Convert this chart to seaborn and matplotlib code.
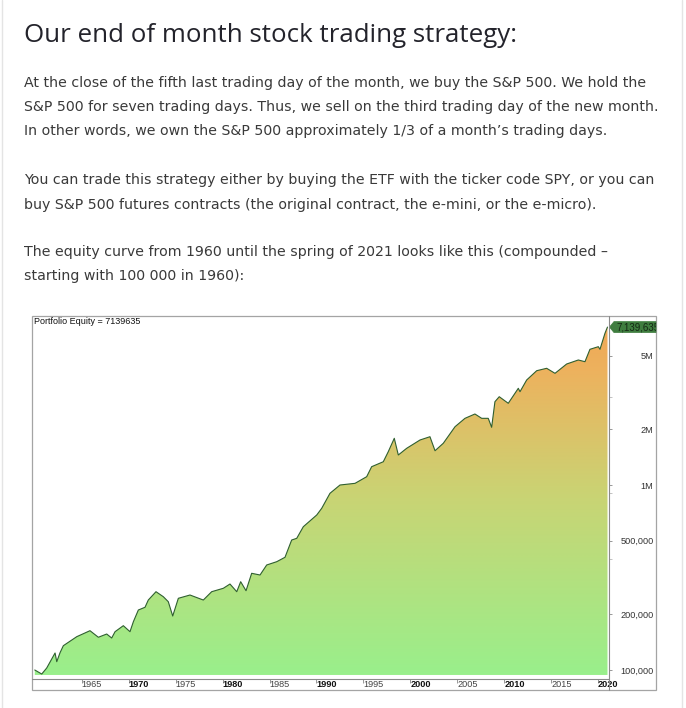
"""
Recreation of a blog section: intro text plus an end-of-month strategy equity curve.
"""

import numpy as np
import matplotlib
matplotlib.use("Agg")
import matplotlib.pyplot as plt
import seaborn as sns
from matplotlib.patches import Polygon, Rectangle
from matplotlib.lines import Line2D
from matplotlib.image import AxesImage
from matplotlib.colors import LinearSegmentedColormap
from matplotlib.transforms import Bbox, TransformedBbox

# Equity curve (year, portfolio value)
years = [1960.0, 1960.74, 1961.27, 1962.16, 1962.34, 1962.69, 1963.04, 1964.47,
         1965.88, 1966.77, 1967.66, 1968.19, 1968.55, 1969.43, 1970.14, 1970.50,
         1971.03, 1971.74, 1972.09, 1972.91, 1973.69, 1974.22, 1974.69, 1975.29,
         1976.53, 1977.95, 1978.84, 1980.08, 1980.79, 1981.51, 1981.93, 1982.50,
         1983.10, 1983.99, 1984.70, 1985.77, 1986.65, 1987.36, 1987.90, 1988.60,
         1990.03, 1990.56, 1991.44, 1992.51, 1994.11, 1995.35, 1995.88, 1997.12,
         1997.65, 1998.29, 1998.72, 1999.61, 2001.03, 2002.09, 2002.63, 2003.51,
         2004.76, 2005.82, 2006.88, 2007.60, 2008.30, 2008.66, 2009.01, 2009.47,
         2010.43, 2011.50, 2011.68, 2012.39, 2013.46, 2014.52, 2015.41, 2016.65,
         2017.89, 2018.60, 2019.13, 2020.02, 2020.20, 2020.73, 2020.90, 2021.00]
equity = [100000, 95100, 102500, 123600, 110900, 124000, 135300, 151400,
          163100, 150300, 156500, 148900, 161100, 173600, 161100, 182400,
          211000, 218300, 238900, 265000, 249000, 234000, 195800, 244100,
          254300, 238900, 265000, 276500, 291600, 265000, 300100, 268300,
          333200, 326200, 369500, 385000, 406700, 504200, 515000, 595000,
          688400, 748200, 901800, 1000000, 1021000, 1109000, 1256000, 1336000,
          1514000, 1788000, 1453000, 1579000, 1751000, 1824000, 1532000, 1681000,
          2066000, 2293000, 2420000, 2293000, 2293000, 2051000, 2820000, 3001000,
          2765000, 3332000, 3194000, 3695000, 4148000, 4274000, 4015000, 4509000,
          4740000, 4641000, 5414000, 5593000, 5414000, 6607000, 6944000, 7139635]

year_ticks = [1965, 1970, 1975, 1980, 1985, 1990, 1995, 2000, 2005, 2010, 2015, 2020]
value_ticks = [100000, 200000, 500000, 1000000, 2000000, 5000000]
value_labels = ["100,000", "200,000", "500,000", "1M", "2M", "5M"]
minor_value_ticks = [400000, 900000, 3000000]

TITLE = "Our end of month stock trading strategy:"
LINES = [
    ("At the close of the fifth last trading day of the month, we buy the S&P 500. We hold the", 87),
    ("S&P 500 for seven trading days. Thus, we sell on the third trading day of the new month.", 111),
    ("In other words, we own the S&P 500 approximately 1/3 of a month\u2019s trading days.", 135),
    ("You can trade this strategy either by buying the ETF with the ticker code SPY, or you can", 184),
    ("buy S&P 500 futures contracts (the original contract, the e-mini, or the e-micro).", 209),
    ("The equity curve from 1960 until the spring of 2021 looks like this (compounded \u2013", 256),
    ("starting with 100 000 in 1960):", 280),
]

W, H = 686, 708


def fx(px):
    return px / W


def fy(py):
    return 1 - py / H


sns.set_style("white")
plt.rcParams['font.family'] = ['DejaVu Sans']

fig = plt.figure(figsize=(W / 100, H / 100), dpi=100)
fig.patch.set_facecolor('white')

# Page text
fig.text(fx(24), fy(42), TITLE, family='Open Sans', fontsize=18.6, color='#23232b', va='baseline')
for txt, base in LINES:
    fig.text(fx(24), fy(base), txt, family='DejaVu Sans', fontsize=10.15, color='#3a3a3a', va='baseline')

# page borders
for px in (2, 682):
    fig.add_artist(Line2D([fx(px), fx(px)], [0, 1], color='#e4e4e4', lw=1))

# Chart
ax = fig.add_axes([fx(33), fy(679), (609 - 33) / W, (679 - 316) / H])
sns.lineplot(x=years, y=equity, ax=ax, color='#2f5f30', linewidth=0.8, zorder=3)
ax.set_yscale('log')
ax.set_xlim(1959.81, 2021.16)
ax.set_ylim(89400, 8195000)
ax.patch.set_alpha(0)
for s in ax.spines.values():
    s.set_visible(False)

cmap = LinearSegmentedColormap.from_list(
    'eq', [(0, '#98f08c'), (0.5, '#c9d474'), (0.85, '#edb25e'), (1, '#f0a553')])
im = AxesImage(ax, cmap=cmap, extent=[0, 1, 0, 1], origin='lower',
               transform=ax.transAxes, interpolation='bilinear')
im.set_data(np.linspace(0, 1, 256).reshape(-1, 1))
ax.add_image(im)
floor = 94000
clip = Polygon(list(zip(years, equity)) + [(years[-1], floor), (years[0], floor)],
               closed=True, transform=ax.transData, facecolor='none', edgecolor='none')
ax.add_patch(clip)
im.set_clip_path(clip)
im.set_zorder(1)

# ticks
ax.set_xticks(year_ticks)
ax.set_xticklabels([str(y) for y in year_ticks])
for lab, y in zip(ax.get_xticklabels(), year_ticks):
    lab.set_horizontalalignment('left')
    lab.set_family('Liberation Sans')
    if y % 10 == 0:
        lab.set_fontweight('bold')
        lab.set_color('#111111')
    else:
        lab.set_color('#444444')
ax.tick_params(axis='x', direction='out', length=2.9, width=0.6, color='#888888',
               labelsize=6.6, pad=-2.0, bottom=True)

ax.yaxis.tick_right()
ax.set_yticks(value_ticks)
ax.set_yticks(minor_value_ticks, minor=True)
ax.set_yticklabels(value_labels)
ax.yaxis.set_minor_formatter(matplotlib.ticker.NullFormatter())
for lab in ax.get_yticklabels():
    lab.set_horizontalalignment('right')
    lab.set_family('Liberation Sans')
    lab.set_color('#333333')
ax.tick_params(axis='y', which='major', direction='out', length=2.5, width=0.6,
               color='#888888', labelsize=6.6, pad=29.5, right=True, left=False)
ax.tick_params(axis='y', which='minor', direction='out', length=1.8, width=0.5,
               color='#aaaaaa', right=True, left=False)

# frame and axis lines
fig.add_artist(Rectangle((fx(32), fy(690)), (656 - 32) / W, (690 - 316) / H,
                         transform=fig.transFigure, fill=False, edgecolor='#a4a4a4', lw=0.9))
fig.add_artist(Line2D([fx(32), fx(609)], [fy(679), fy(679)], color='#8a8a8a', lw=0.8))
fig.add_artist(Line2D([fx(609), fx(609)], [fy(316), fy(690)], color='#8a8a8a', lw=0.8))

fig.text(fx(34), fy(317), "Portfolio Equity = 7139635", family='Liberation Sans',
         fontsize=6.5, color='#111111', va='top')

# last value tag
yc = ax.transData.transform((years[-1], equity[-1]))[1]
half = 5.5
tag = Polygon([(fx(609.5), yc / H), (fx(614), (yc + half) / H), (fx(656), (yc + half) / H),
               (fx(656), (yc - half) / H), (fx(614), (yc - half) / H)],
              closed=True, transform=fig.transFigure, facecolor='#3f7d3f', edgecolor='#3f7d3f', lw=0.5)
fig.add_artist(tag)
t = fig.text(fx(616), yc / H, "{:,}".format(equity[-1]), family='Liberation Sans',
             fontsize=7.0, color='#142814', va='center', ha='left')
t.set_clip_box(TransformedBbox(Bbox([[fx(32), 0], [fx(655.5), 1]]), fig.transFigure))
t.set_clip_on(True)

fig.savefig('out.png', dpi=100)
